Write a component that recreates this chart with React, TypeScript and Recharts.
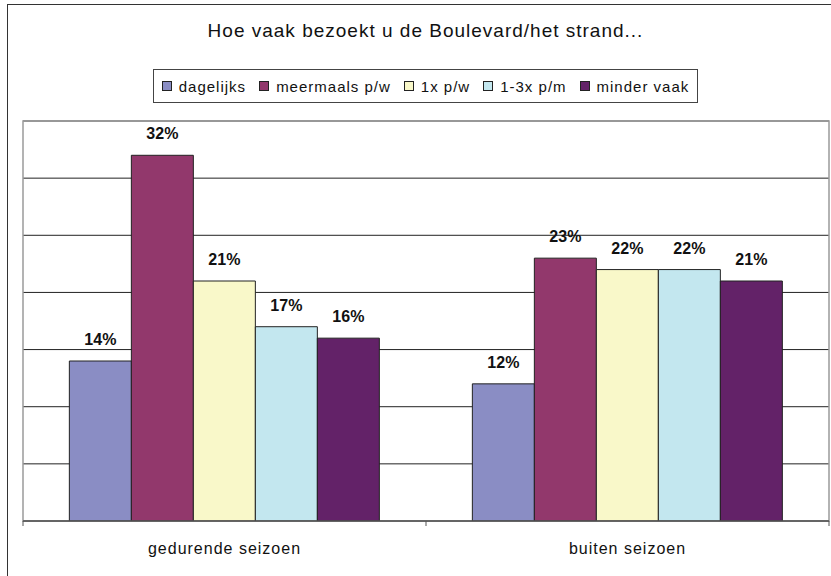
import React from 'react';
import { BarChart, Bar, XAxis, YAxis, CartesianGrid, LabelList, ReferenceArea } from 'recharts';

const title = 'Hoe vaak bezoekt u de Boulevard/het strand...';
const categories = ['gedurende seizoen', 'buiten seizoen'];
const dagelijks = [14, 12];
const meermaals = [32, 23];
const eenxPw = [21, 22];
const eenTot3Pm = [17, 22];
const minderVaak = [16, 21];
const seriesNames = ['dagelijks', 'meermaals p/w', '1x p/w', '1-3x p/m', 'minder vaak'];
const seriesColors = ['#8A8DC4', '#92386C', '#F9F8C9', '#C3E7EF', '#632268'];
const yTicks = [0, 5, 10, 15, 20, 25, 30];
const yMax = 35;

const seriesValues = [dagelijks, meermaals, eenxPw, eenTot3Pm, minderVaak];
const keys = ['s0', 's1', 's2', 's3', 's4'];
const data = categories.map((c, i) => {
  const row: any = { category: c };
  keys.forEach((k, j) => { row[k] = seriesValues[j][i]; });
  return row;
});

const FONT = '"Liberation Sans", Arial, Helvetica, sans-serif';

const CatTick = (props: any) => {
  const { x, y, payload, index } = props;
  const half = payload && payload.offset ? payload.offset : 0;
  const axisY = y - 6;
  return (
    <g>
      <line x1={x - half} x2={x - half} y1={axisY} y2={axisY + 5} stroke="#555" strokeWidth={1} />
      {index === categories.length - 1 ? (
        <line x1={x + half} x2={x + half} y1={axisY} y2={axisY + 5} stroke="#555" strokeWidth={1} />
      ) : null}
      <text x={x} y={axisY + 33} textAnchor="middle" fontFamily={FONT} fontSize={16} letterSpacing={1} fill="#111">
        {payload.value}
      </text>
    </g>
  );
};

export default function App() {
  return (
    <div style={{ position: 'absolute', left: 0, top: 0, width: 831, height: 576, overflow: 'hidden', background: '#fff', fontFamily: FONT }}>
      <div style={{ position: 'absolute', left: 7, top: 4, width: 900, height: 700, border: '1.5px solid #333', boxSizing: 'border-box' }} />
      <div style={{ position: 'absolute', left: 0, top: 0 }}>
        <BarChart width={831} height={576} data={data} margin={{ top: 121, right: 2, bottom: 25, left: 23 }} barCategoryGap="11.5%" barGap={0}>
          <CartesianGrid horizontal vertical={false} stroke="#222" strokeWidth={1} />
          <ReferenceArea y1={0} y2={yMax} fill="none" stroke="#9a9a9a" strokeWidth={1.5} ifOverflow="visible" />
          <YAxis hide domain={[0, yMax]} ticks={yTicks} type="number" allowDataOverflow />
          <XAxis dataKey="category" height={30} axisLine={{ stroke: '#555', strokeWidth: 1.5 }} tickLine={false} tickSize={6} tickMargin={0} tick={<CatTick />} interval={0} />
          {keys.map((k, j) => (
            <Bar key={k} dataKey={k} name={seriesNames[j]} fill={seriesColors[j]} stroke="#222" strokeWidth={1} isAnimationActive={false}>
              <LabelList dataKey={k} position="top" offset={16} formatter={(v: any) => `${v}%`} style={{ fontFamily: FONT, fontSize: 16, fontWeight: 'bold', fill: '#111' }} />
            </Bar>
          ))}
        </BarChart>
      </div>
      <div style={{ position: 'absolute', left: 0, width: 851, top: 20, textAlign: 'center', fontSize: 19, letterSpacing: 1, color: '#111', whiteSpace: 'nowrap' }}>
        {title}
      </div>
      <div style={{ position: 'absolute', left: 153, top: 69, width: 545, height: 34, boxSizing: 'border-box', border: '1.5px solid #444', display: 'flex', alignItems: 'center', justifyContent: 'center', fontSize: 15, letterSpacing: 1, color: '#111', whiteSpace: 'nowrap' }}>
        {seriesNames.map((n, j) => (
          <span key={n} style={{ display: 'inline-flex', alignItems: 'center', marginRight: j < seriesNames.length - 1 ? 13 : 0 }}>
            <span style={{ display: 'inline-block', width: 10, height: 10, boxSizing: 'border-box', background: seriesColors[j], border: '1.5px solid #222', marginRight: 7 }} />
            {n}
          </span>
        ))}
      </div>
    </div>
  );
}
